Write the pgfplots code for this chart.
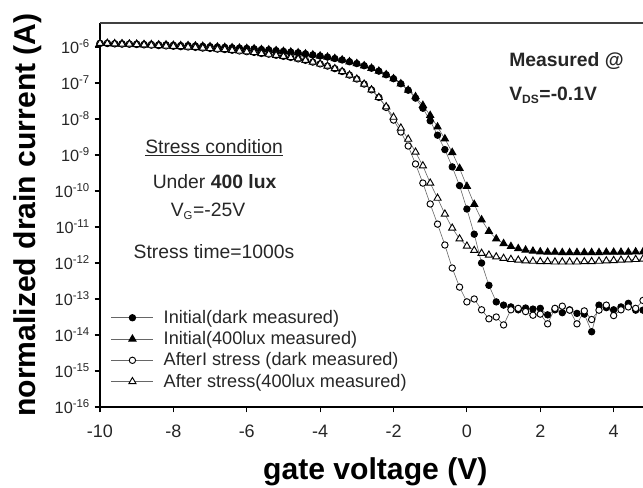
\documentclass[border=0pt]{standalone}
\usepackage{fontspec}
\setmainfont{Liberation Sans}
\usepackage{pgfplots}
\usepackage{pgfplotstable}
\pgfplotsset{compat=1.18}

% V = gate voltage; A = Initial(dark); B = Initial(400lux); C = After stress (dark); D = After stress (400lux)
\pgfplotstableread{
V A B C D
-10.0 1.259e-6 1.259e-6 1.259e-6 1.259e-6
-9.8 1.259e-6 1.259e-6 1.259e-6 1.259e-6
-9.6 1.230e-6 1.230e-6 1.230e-6 1.230e-6
-9.4 1.230e-6 1.230e-6 1.202e-6 1.202e-6
-9.2 1.202e-6 1.202e-6 1.202e-6 1.202e-6
-9.0 1.202e-6 1.202e-6 1.175e-6 1.175e-6
-8.8 1.175e-6 1.175e-6 1.148e-6 1.148e-6
-8.6 1.175e-6 1.175e-6 1.122e-6 1.122e-6
-8.4 1.148e-6 1.148e-6 1.096e-6 1.096e-6
-8.2 1.148e-6 1.148e-6 1.072e-6 1.072e-6
-8.0 1.122e-6 1.122e-6 1.047e-6 1.047e-6
-7.8 1.096e-6 1.096e-6 1.023e-6 1.023e-6
-7.6 1.096e-6 1.096e-6 1.000e-6 1.000e-6
-7.4 1.072e-6 1.072e-6 9.772e-7 9.772e-7
-7.2 1.047e-6 1.047e-6 9.333e-7 9.333e-7
-7.0 1.023e-6 1.023e-6 9.120e-7 9.120e-7
-6.8 1.000e-6 1.000e-6 8.710e-7 8.710e-7
-6.6 9.772e-7 9.772e-7 8.511e-7 8.511e-7
-6.4 9.550e-7 9.550e-7 8.128e-7 8.128e-7
-6.2 9.333e-7 9.333e-7 7.762e-7 7.762e-7
-6.0 9.120e-7 9.120e-7 7.413e-7 7.413e-7
-5.8 8.913e-7 8.913e-7 7.079e-7 7.079e-7
-5.6 8.511e-7 8.511e-7 6.607e-7 6.607e-7
-5.4 8.318e-7 8.318e-7 6.310e-7 6.310e-7
-5.2 7.943e-7 7.943e-7 5.888e-7 5.888e-7
-5.0 7.586e-7 7.586e-7 5.495e-7 5.495e-7
-4.8 7.244e-7 7.244e-7 5.129e-7 5.129e-7
-4.6 6.918e-7 6.918e-7 4.677e-7 4.677e-7
-4.4 6.457e-7 6.457e-7 4.266e-7 4.266e-7
-4.2 6.026e-7 6.026e-7 3.802e-7 3.802e-7
-4.0 5.623e-7 5.623e-7 3.388e-7 3.388e-7
-3.8 5.248e-7 5.248e-7 2.951e-7 2.951e-7
-3.6 4.786e-7 4.786e-7 2.512e-7 2.512e-7
-3.4 4.365e-7 4.365e-7 2.089e-7 2.089e-7
-3.2 3.890e-7 3.890e-7 1.660e-7 1.660e-7
-3.0 3.467e-7 3.467e-7 1.288e-7 1.288e-7
-2.8 3.020e-7 3.020e-7 9.333e-8 9.333e-8
-2.6 2.570e-7 2.570e-7 6.457e-8 6.457e-8
-2.4 2.138e-7 2.138e-7 3.981e-8 3.981e-8
-2.2 1.698e-7 1.698e-7 2.089e-8 2.188e-8
-2.0 1.318e-7 1.318e-7 9.333e-9 1.122e-8
-1.8 9.550e-8 9.550e-8 4.365e-9 5.623e-9
-1.6 6.310e-8 6.310e-8 1.778e-9 2.754e-9
-1.4 3.802e-8 4.169e-8 5.623e-10 1.202e-9
-1.2 1.995e-8 2.399e-8 1.660e-10 5.012e-10
-1.0 8.913e-9 1.259e-8 4.365e-11 1.660e-10
-0.8 3.548e-9 6.026e-9 1.202e-11 6.310e-11
-0.6 1.413e-9 2.818e-9 3.162e-12 2.291e-11
-0.4 4.677e-10 1.175e-9 7.244e-13 9.333e-12
-0.2 1.413e-10 4.266e-10 2.138e-13 4.677e-12
0.0 3.162e-11 1.349e-10 8.318e-14 2.951e-12
0.2 6.310e-12 4.266e-11 1.000e-13 2.239e-12
0.4 1.000e-12 1.585e-11 5.012e-14 1.862e-12
0.6 2.399e-13 7.586e-12 2.818e-14 1.660e-12
0.8 8.318e-14 4.677e-12 3.162e-14 1.479e-12
1.0 6.761e-14 3.467e-12 1.905e-14 1.349e-12
1.2 6.026e-14 2.884e-12 5.012e-14 1.259e-12
1.4 5.012e-14 2.512e-12 5.495e-14 1.202e-12
1.6 5.623e-14 2.291e-12 4.467e-14 1.148e-12
1.8 5.248e-14 2.138e-12 3.548e-14 1.122e-12
2.0 5.495e-14 2.042e-12 3.802e-14 1.096e-12
2.2 3.631e-14 1.995e-12 2.042e-14 1.096e-12
2.4 5.012e-14 1.995e-12 5.495e-14 1.072e-12
2.6 4.169e-14 1.950e-12 6.310e-14 1.072e-12
2.8 5.012e-14 1.950e-12 4.898e-14 1.072e-12
3.0 3.981e-14 1.950e-12 2.042e-14 1.072e-12
3.2 3.802e-14 1.950e-12 4.677e-14 1.096e-12
3.4 1.230e-14 1.950e-12 2.692e-14 1.096e-12
3.6 6.761e-14 1.950e-12 4.898e-14 1.122e-12
3.8 5.754e-14 1.995e-12 6.761e-14 1.148e-12
4.0 5.012e-14 1.995e-12 3.467e-14 1.175e-12
4.2 6.026e-14 1.995e-12 5.012e-14 1.202e-12
4.4 7.586e-14 1.995e-12 6.026e-14 1.230e-12
4.6 4.898e-14 2.042e-12 5.495e-14 1.259e-12
4.8 4.898e-14 2.042e-12 9.120e-14 1.288e-12
}\datatable

\begin{document}
\begin{tikzpicture}
\useasboundingbox (-75pt,-60.75pt) rectangle (407.25pt,305.25pt);
\begin{axis}[
  at={(0,0)}, anchor=south west,
  width=407.25pt, height=288pt, scale only axis,
  xmin=-10, xmax=4.8,
  ymode=log, ymin=1e-16, ymax=4.64e-6,
  clip=false,
  axis lines=left,
  axis line style={-, line width=1.2pt, black},
  xtick={-10,-8,-6,-4,-2,0,2,4},
  xticklabels={-10,-8,-6,-4,-2,0,2,4},
  ytick={1e-16,1e-15,1e-14,1e-13,1e-12,1e-11,1e-10,1e-9,1e-8,1e-7,1e-6},
  yticklabels={10\textsuperscript{-16},10\textsuperscript{-15},10\textsuperscript{-14},10\textsuperscript{-13},10\textsuperscript{-12},10\textsuperscript{-11},10\textsuperscript{-10},10\textsuperscript{-9},10\textsuperscript{-8},10\textsuperscript{-7},10\textsuperscript{-6}},
  yminorticks=false, xminorticks=false,
  tick align=outside, major tick length=4pt,
  tick style={line width=0.8pt, black},
  xticklabel style={font=\fontsize{13.5}{15}\selectfont, text=black!85, yshift=-6pt},
  yticklabel style={font=\fontsize{12.2}{14}\selectfont, text=black!85},
  label style={font=\fontsize{22.6}{27}\selectfont\bfseries},
  xlabel={gate voltage (V)},
  ylabel={normalized drain current (A)},
  xlabel style={at={(axis description cs:0.507,-0.19)}, anchor=base},
  ylabel style={at={(axis description cs:-0.1179,0.5)}, anchor=base},
  legend style={at={(0.02,0.258)}, anchor=north west, draw=none, fill=none,
    font=\fontsize{13.6}{16}\selectfont, text=black!85, inner sep=0pt, row sep=1.6pt,
    nodes={inner sep=1.5pt},
    /tikz/every odd column/.append style={column sep=6pt}},
  legend cell align=left,
  legend image code/.code={\draw[#1, mark repeat=2, mark phase=2] plot coordinates {(0pt,0pt) (15.75pt,0pt) (31.5pt,0pt)};},
]
\addplot[draw=black!60, line width=0.45pt, mark=*, mark size=2.4pt,
  mark options={draw=black, fill=black, line width=0.7pt, solid}]
  table[x=V, y=A]{\datatable};
\addlegendentry{Initial(dark measured)}
\addplot[draw=black!60, line width=0.45pt, mark=triangle*, mark size=3.1pt,
  mark options={draw=black, fill=black, line width=0.7pt, solid}]
  table[x=V, y=B]{\datatable};
\addlegendentry{Initial(400lux measured)}
\addplot[draw=black!60, line width=0.45pt, mark=*, mark size=2.4pt,
  mark options={draw=black, fill=white, line width=0.7pt, solid}]
  table[x=V, y=C]{\datatable};
\addlegendentry{AfterI stress (dark measured)}
\addplot[draw=black!60, line width=0.45pt, mark=triangle*, mark size=3.1pt,
  mark options={draw=black, fill=white, line width=0.7pt, solid}]
  table[x=V, y=D]{\datatable};
\addlegendentry{After stress(400lux measured)}

\draw[line width=1.3pt, black!75] (rel axis cs:0,1) -- (rel axis cs:1,1);

\begin{scope}[every node/.style={font=\fontsize{14.5}{17}\selectfont, text=black!85, inner sep=0pt}]
\node[anchor=base] at (rel axis cs:0.21,0.661) {\underline{Stress condition}};
\node[anchor=base] at (rel axis cs:0.211,0.5695) {Under \textbf{400 lux}};
\node[anchor=base] at (rel axis cs:0.199,0.4956) {V\textsubscript{\fontsize{8.5}{9}\selectfont G}=-25V};
\node[anchor=base] at (rel axis cs:0.21,0.387) {Stress time=1000s};
\node[anchor=base west, font=\fontsize{14.5}{17}\selectfont\bfseries] at (rel axis cs:0.7532,0.886) {Measured @};
\node[anchor=base west, font=\fontsize{14.5}{17}\selectfont\bfseries] at (rel axis cs:0.7532,0.799) {V\textsubscript{\fontsize{9}{10}\selectfont DS}=-0.1V};
\end{scope}
\end{axis}
\end{tikzpicture}
\end{document}
